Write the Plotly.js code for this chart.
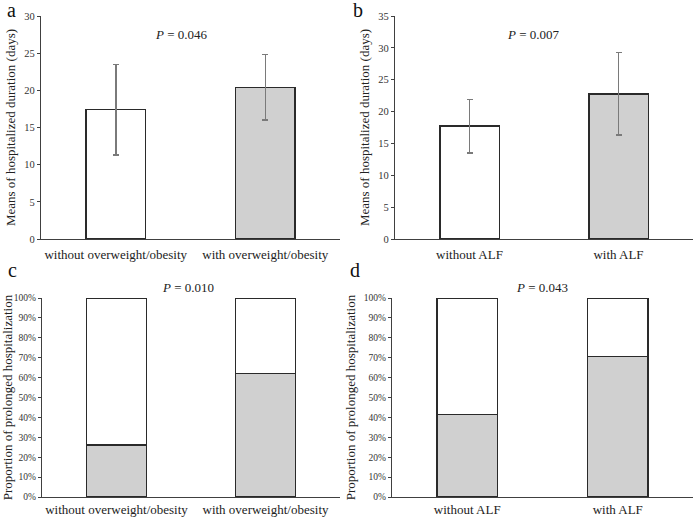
<!DOCTYPE html>
<html>
<head>
<meta charset="utf-8">
<script src="https://cdn.plot.ly/plotly-3.0.1.min.js"></script>
<style>html,body{margin:0;padding:0;background:#fff;}#chart{width:697px;height:519px;}</style>
</head>
<body>
<div id="chart"></div>
<script>
// Panel a: hospitalized duration by overweight/obesity
var catsA = ["without overweight/obesity", "with overweight/obesity"];
var meanA = [17.4, 20.4];
var sdA = [6.1, 4.4];
// Panel b: hospitalized duration by ALF
var catsB = ["without ALF", "with ALF"];
var meanB = [17.7, 22.8];
var sdB = [4.2, 6.5];
// Panel c: proportion of prolonged hospitalization (overweight/obesity)
var catsC = ["without overweight/obesity", "with overweight/obesity"];
var propC = [26.2, 62.1];
// Panel d: proportion of prolonged hospitalization (ALF)
var catsD = ["without ALF", "with ALF"];
var propD = [41.5, 70.5];
var pLabels = ["<i>P</i> = 0.046", "<i>P</i> = 0.007", "<i>P</i> = 0.010", "<i>P</i> = 0.043"];
var panelLabels = ["a", "b", "c", "d"];

var W = 697, H = 519;
var FONT = "'Liberation Serif', 'Times New Roman', serif";
var fills = ["#ffffff", "#d0d0d0"];
var lineCol = "#2a2a2a";

function meanTrace(cats, means, sds, xa, ya) {
  return {
    type: "bar", x: cats, y: means, xaxis: xa, yaxis: ya,
    marker: {color: fills, line: {color: lineCol, width: 1.6}},
    error_y: {type: "data", array: sds, visible: true, color: "#7a7a7a", thickness: 1.5, width: 3},
    hoverinfo: "skip", showlegend: false
  };
}
function rest(p) { return p.map(function (v) { return 100 - v; }); }
function stackTraces(cats, props, xa, ya) {
  return [
    {type: "bar", x: cats, y: props, xaxis: xa, yaxis: ya,
     marker: {color: "#d0d0d0", line: {color: lineCol, width: 1.4}}, showlegend: false, hoverinfo: "skip"},
    {type: "bar", x: cats, y: rest(props), xaxis: xa, yaxis: ya,
     marker: {color: "#ffffff", line: {color: lineCol, width: 1.4}}, showlegend: false, hoverinfo: "skip"}
  ];
}

var data = [
  meanTrace(catsA, meanA, sdA, "x", "y"),
  meanTrace(catsB, meanB, sdB, "x2", "y2")
].concat(stackTraces(catsC, propC, "x3", "y3"), stackTraces(catsD, propD, "x4", "y4"));

function px(v) { return v / W; }
function py(v) { return 1 - v / H; }

function xax(d0, d1, anchor, so) {
  return {domain: [px(d0), px(d1)], anchor: anchor, showline: true, linecolor: "#404040", linewidth: 1.2,
    ticks: "", showgrid: false, zeroline: false, ticklabelstandoff: so,
    tickfont: {family: FONT, size: 13, color: "#222"},
    fixedrange: true};
}
function yax(top, bot, anchor, range, dtick, suffix, title, tfs) {
  return {domain: [py(bot), py(top)], anchor: anchor, range: range, dtick: dtick, tick0: 0,
    ticksuffix: suffix || "", showline: true, linecolor: "#404040", linewidth: 1.2,
    ticks: "outside", ticklen: 3, tickcolor: "#404040", showgrid: false, zeroline: false,
    tickfont: {family: FONT, size: tfs, color: "#333"},
    title: {text: title, font: {family: FONT, size: 13, color: "#222"}, standoff: 5},
    fixedrange: true};
}

var layout = {
  width: W, height: H,
  margin: {l: 0, r: 0, t: 0, b: 0},
  paper_bgcolor: "#fff", plot_bgcolor: "#fff",
  barmode: "stack", bargap: 0.6,
  font: {family: FONT},
  xaxis: xax(41, 340, "y", 3),
  yaxis: yax(16, 239, "x", [0, 30], 5, "", "Means of hospitalized duration (days)", 10.5),
  xaxis2: xax(395, 693, "y2", 3),
  yaxis2: yax(16, 239, "x2", [0, 35], 5, "", "Means of hospitalized duration (days)", 10.5),
  xaxis3: xax(42, 340, "y3", 0),
  yaxis3: yax(298, 497, "x3", [0, 100], 10, "%", "Proportion of prolonged hospitalization", 9.5),
  xaxis4: xax(392, 693, "y4", 0),
  yaxis4: yax(298, 497, "x4", [0, 100], 10, "%", "Proportion of prolonged hospitalization", 9.5),
  annotations: [
    {text: pLabels[0], x: px(181), y: py(35)},
    {text: pLabels[1], x: px(533), y: py(35)},
    {text: pLabels[2], x: px(188), y: py(288)},
    {text: pLabels[3], x: px(542), y: py(288)},
    {text: panelLabels[0], x: px(11), y: py(10), font: {family: FONT, size: 20, color: "#111"}},
    {text: panelLabels[1], x: px(358), y: py(10), font: {family: FONT, size: 20, color: "#111"}},
    {text: panelLabels[2], x: px(12), y: py(270), font: {family: FONT, size: 20, color: "#111"}},
    {text: panelLabels[3], x: px(355), y: py(270), font: {family: FONT, size: 20, color: "#111"}}
  ].map(function (a) {
    return Object.assign({xref: "paper", yref: "paper", showarrow: false, xanchor: "center", yanchor: "middle",
      font: {family: FONT, size: 13, color: "#222"}}, a);
  })
};

Plotly.newPlot("chart", data, layout, {displayModeBar: false, staticPlot: true});
</script>
</body>
</html>
